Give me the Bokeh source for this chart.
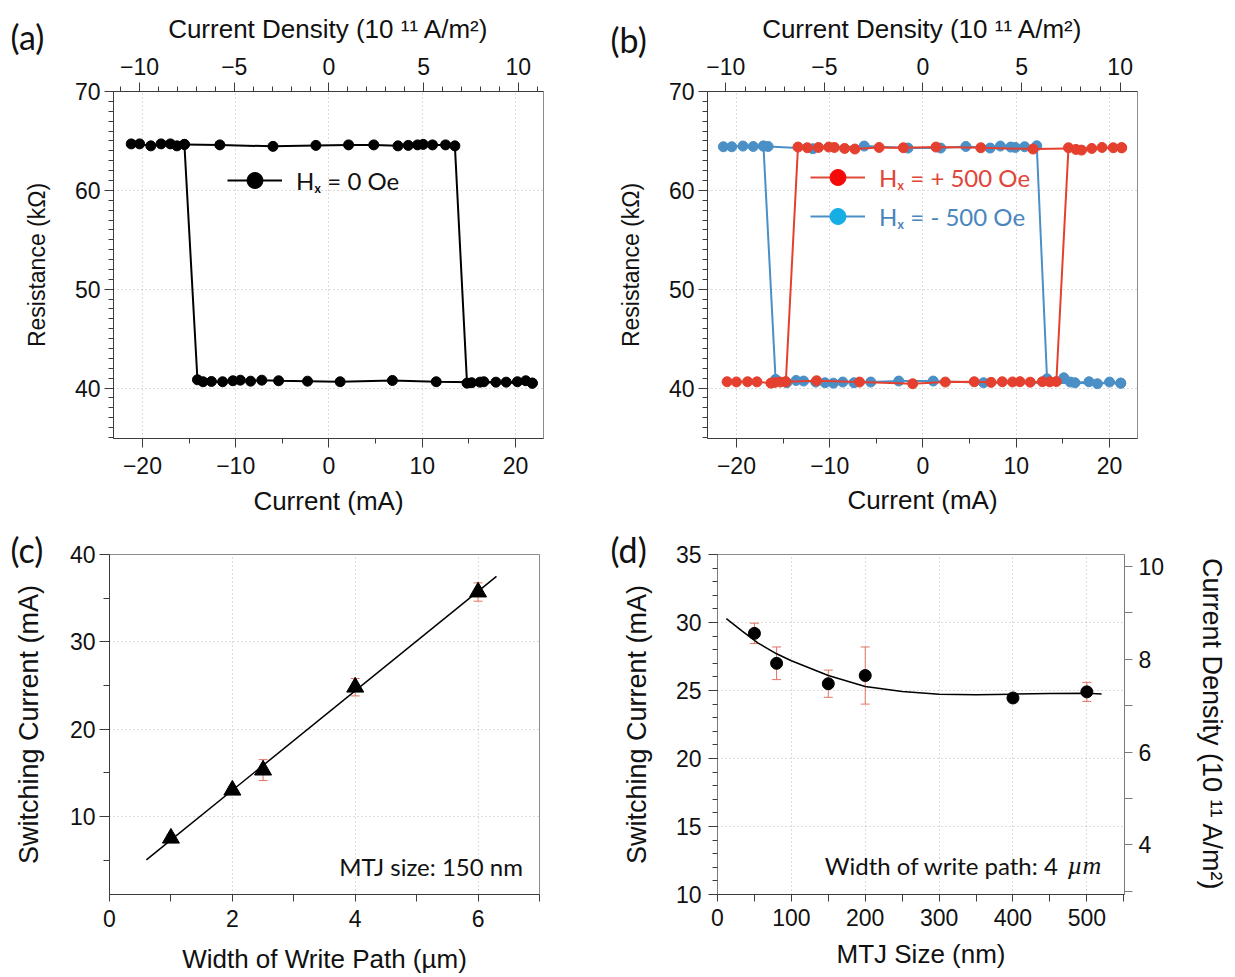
import numpy as np
from bokeh.plotting import figure
from bokeh.layouts import column, row
from bokeh.models import (ColumnDataSource, Range1d, LinearAxis, FixedTicker, Title,
                          CustomJSTickFormatter, Legend, LegendItem, Label, Whisker, TeeHead)
from bokeh.embed import file_html
from bokeh.resources import INLINE

# ---------------------------------------------------------------- data
a_up_current = [-21.2, -20.3, -19.1, -18.0, -17.0, -16.3, -15.5, -11.7, -6.0, -1.4, 2.1, 4.8,
                7.4, 8.5, 9.5, 10.1, 11.1, 12.5, 13.5, 14.8, 15.3, 16.2, 16.6, 17.9, 19.0,
                20.2, 21.1, 21.8]
a_up_resist = [64.70, 64.70, 64.50, 64.70, 64.70, 64.50, 64.65, 64.60, 64.45, 64.55, 64.60, 64.60,
               64.50, 64.55, 64.60, 64.65, 64.60, 64.60, 64.50, 40.50, 40.54, 40.60, 40.64, 40.60,
               40.60, 40.64, 40.74, 40.50]
a_down_current = [21.8, 11.5, 6.8, 1.2, -2.3, -5.4, -7.2, -8.4, -9.5, -10.3, -11.4, -12.6,
                  -13.5, -14.1, -15.5]
a_down_resist = [40.50, 40.64, 40.77, 40.64, 40.70, 40.74, 40.80, 40.70, 40.80, 40.74, 40.64,
                 40.67, 40.64, 40.84, 64.65]
a_density_per_mA = 0.4925

b_pos_up_current = [-21.0, -20.0, -18.8, -17.8, -16.3, -15.9, -15.3, -14.7, -11.4, -6.8, -1.1,
                    2.4, 5.5, 7.3, 8.5, 9.6, 10.4, 11.5, 12.8, 13.6, 14.3, 15.6, 16.4, 17.0,
                    18.1, 19.2, 20.4, 21.3]
b_pos_up_resist = [40.64, 40.62, 40.64, 40.63, 40.50, 40.57, 40.61, 40.64, 40.74, 40.61, 40.44,
                   40.61, 40.64, 40.58, 40.64, 40.62, 40.65, 40.60, 40.64, 40.63, 40.66, 64.31,
                   64.14, 64.07, 64.24, 64.34, 64.31, 64.31]
b_pos_down_current = [21.3, 11.8, 6.2, 1.4, -2.1, -4.7, -7.3, -8.4, -9.5, -10.1, -11.2, -12.4,
                      -13.4, -14.7]
b_pos_down_resist = [64.31, 64.18, 64.31, 64.38, 64.31, 64.34, 64.18, 64.24, 64.34, 64.38, 64.34,
                     64.31, 64.38, 40.64]
b_neg_up_current = [-21.4, -20.5, -19.3, -18.2, -17.1, -16.6, -11.8, -6.3, -1.6, 1.9, 4.6, 7.2,
                    8.3, 9.4, 9.9, 10.9, 12.2, 13.3, 15.1, 15.8, 16.3, 17.8, 18.7, 20.0, 21.2]
b_neg_up_resist = [64.41, 64.41, 64.48, 64.44, 64.48, 64.44, 64.21, 64.48, 64.28, 64.28, 64.44,
                   64.28, 64.48, 64.38, 64.34, 64.41, 64.51, 40.94, 41.04, 40.61, 40.54, 40.64,
                   40.44, 40.61, 40.50]
b_neg_down_current = [21.2, 6.5, 1.1, -2.6, -5.6, -7.4, -8.6, -9.6, -10.5, -11.5, -12.8, -13.6,
                      -14.6, -15.8, -17.1]
b_neg_down_resist = [40.50, 40.54, 40.71, 40.71, 40.61, 40.54, 40.61, 40.50, 40.54, 40.61, 40.71,
                     40.77, 40.54, 40.88, 64.48]
b_density_per_mA = 0.473

c_width_um = [1, 2, 2.5, 4, 6]
c_switch_mA = [7.5, 13.0, 15.3, 24.8, 35.7]
c_err_mA = [0.4, 0.4, 1.2, 1.0, 1.05]
c_fit_span = [0.6, 6.3]

d_size_nm = [50, 80, 150, 200, 400, 500]
d_switch_mA = [29.2, 27.0, 25.5, 26.1, 24.45, 24.9]
d_err_mA = [0.75, 1.2, 1.0, 2.1, 0.3, 0.7]
d_curve_nm = [12, 33, 55, 80, 100, 150, 200, 250, 300, 350, 400, 450, 500, 520]
d_curve_mA = [30.29, 29.39, 28.49, 27.70, 27.19, 26.10, 25.30, 24.92, 24.73, 24.68, 24.73,
              24.78, 24.80, 24.75]
d_density_per_mA = 0.293

ab_current_ticks = [-20, -10, 0, 10, 20]
ab_current_minor = [-15, -5, 5, 15]
ab_density_ticks = [-10, -5, 0, 5, 10]
ab_density_minor = list(range(-11, 12))
ab_resist_ticks = [40, 50, 60, 70]
ab_resist_minor = list(range(35, 71))
c_x_ticks = [0, 2, 4, 6]
c_x_minor = [1, 3, 5, 7]
c_y_ticks = [10, 20, 30, 40]
c_y_minor = [5, 15, 25, 35]
d_x_ticks = [0, 100, 200, 300, 400, 500]
d_x_minor = [50, 150, 250, 350, 450, 550]
d_y_ticks = [10, 15, 20, 25, 30, 35]
d_y_minor = list(range(10, 36))
d_j_ticks = [4, 6, 8, 10]
d_j_minor = [3, 5, 7, 9]

# ---------------------------------------------------------------- style
AXF = "Liberation Sans"
TXF = "Lato"
INK = "#111111"
AXC = "#3c3c3c"
FRAME = "#8c8c8c"
GRID = "#b8b8b8"
ERR = "#e27262"
RED = "#e5402f"
BLUE = "#4a8fc6"
NAN = float("nan")


def minus_fmt():
    return CustomJSTickFormatter(
        code="return tick < 0 ? '\u2212' + Math.abs(tick) : String(tick);")


def style_axis(ax, ticks, minor, label, label_size="26px", label_standoff=8,
               tick_standoff=4, maj=9, mnr=5, color=AXC, tick_size="23px"):
    ax.ticker = FixedTicker(ticks=ticks, minor_ticks=minor)
    ax.formatter = minus_fmt()
    ax.axis_label = label
    ax.axis_label_text_font = AXF
    ax.axis_label_text_font_size = label_size
    ax.axis_label_text_font_style = "normal"
    ax.axis_label_text_color = INK
    ax.axis_label_standoff = label_standoff
    ax.major_label_text_font = AXF
    ax.major_label_text_font_size = tick_size
    ax.major_label_text_color = INK
    ax.major_label_standoff = tick_standoff
    ax.axis_line_color = color
    ax.major_tick_line_color = color
    ax.minor_tick_line_color = color
    ax.major_tick_out = maj
    ax.major_tick_in = 0
    ax.minor_tick_out = mnr
    ax.minor_tick_in = 0


def base_fig(w, h, l, r, t, b, xr, yr):
    p = figure(width=w, height=h, x_range=Range1d(*xr), y_range=Range1d(*yr),
               output_backend="svg", toolbar_location=None,
               min_border_left=l, min_border_right=r, min_border_top=t, min_border_bottom=b)
    p.outline_line_color = FRAME
    p.outline_line_width = 1
    p.border_fill_color = "white"
    p.background_fill_color = "white"
    return p


def set_grid(p, xt, yt):
    p.xgrid.ticker = FixedTicker(ticks=xt)
    p.ygrid.ticker = FixedTicker(ticks=yt)
    for g in (p.xgrid, p.ygrid):
        g.grid_line_color = GRID
        g.grid_line_dash = "1 3"
        g.grid_line_width = 1


def letter_title(p, text, offset, standoff):
    p.add_layout(Title(text=text, align="left", offset=offset, standoff=standoff,
                       text_font=TXF, text_font_size="34px", text_font_style="normal",
                       text_color=INK, vertical_align="bottom"), "above")


def legend_for(p, label, line_color, dot_color, text_color, loc):
    ln = p.line(x=[NAN], y=[NAN], line_color=line_color, line_width=2)
    dt = p.scatter(x=[NAN], y=[NAN], marker="circle", size=16, fill_color=dot_color,
                   line_color=dot_color)
    leg = Legend(items=[LegendItem(label=label, renderers=[ln, dt])], location=loc,
                 glyph_width=55, glyph_height=40, label_height=40, label_standoff=14,
                 padding=0, margin=0, spacing=0, border_line_alpha=0,
                 background_fill_alpha=0, label_text_font=TXF,
                 label_text_font_size="24px", label_text_color=text_color)
    p.add_layout(leg)


XR_AB = (-23.1, 23.0)
YR_AB = (34.9, 70.0)
DENS_LABEL = "Current Density (10 \u00b9\u00b9 A/m\u00b2)"

# ---------------------------------------------------------------- (a)
pa = base_fig(610, 528, 113, 67, 91, 90, XR_AB, YR_AB)
style_axis(pa.below[0], ab_current_ticks, ab_current_minor, "Current (mA)",
           tick_standoff=9, label_standoff=9)
style_axis(pa.left[0], ab_resist_ticks, ab_resist_minor, "Resistance (k\u03a9)",
           label_size="23px", label_standoff=22)
pa.extra_x_ranges = {"j": Range1d(XR_AB[0] * a_density_per_mA, XR_AB[1] * a_density_per_mA)}
ta = LinearAxis(x_range_name="j")
style_axis(ta, ab_density_ticks, ab_density_minor, DENS_LABEL,
           tick_standoff=8, label_standoff=11)
pa.add_layout(ta, "above")
set_grid(pa, ab_current_ticks, [40, 50, 60])
pa.line(a_up_current, a_up_resist, line_color="black", line_width=2)
pa.line(a_down_current, a_down_resist, line_color="black", line_width=2)
pa.scatter(a_up_current, a_up_resist, marker="circle", size=10, color="black")
pa.scatter(a_down_current, a_down_resist, marker="circle", size=10, color="black")
legend_for(pa, "H\u2093 = 0 Oe", "black", "black", INK, (114, 238))
letter_title(pa, "(a)", -103, -93)

# ---------------------------------------------------------------- (b)
pb = base_fig(617, 528, 97, 90, 91, 90, XR_AB, YR_AB)
style_axis(pb.below[0], ab_current_ticks, ab_current_minor, "Current (mA)",
           tick_standoff=9, label_standoff=8)
style_axis(pb.left[0], ab_resist_ticks, ab_resist_minor, "Resistance (k\u03a9)",
           label_size="23px", label_standoff=22)
pb.extra_x_ranges = {"j": Range1d(XR_AB[0] * b_density_per_mA, XR_AB[1] * b_density_per_mA)}
tb = LinearAxis(x_range_name="j")
style_axis(tb, ab_density_ticks, ab_density_minor, DENS_LABEL,
           tick_standoff=8, label_standoff=11)
pb.add_layout(tb, "above")
set_grid(pb, ab_current_ticks, [40, 50, 60])
pb.line(b_neg_up_current, b_neg_up_resist, line_color=BLUE, line_width=2)
pb.line(b_neg_down_current, b_neg_down_resist, line_color=BLUE, line_width=2)
pb.scatter(b_neg_up_current, b_neg_up_resist, marker="circle", size=10, color=BLUE)
pb.scatter(b_neg_down_current, b_neg_down_resist, marker="circle", size=10, color=BLUE)
pb.line(b_pos_up_current, b_pos_up_resist, line_color=RED, line_width=2)
pb.line(b_pos_down_current, b_pos_down_resist, line_color=RED, line_width=2)
pb.scatter(b_pos_up_current, b_pos_up_resist, marker="circle", size=10, color=RED)
pb.scatter(b_pos_down_current, b_pos_down_resist, marker="circle", size=10, color=RED)
legend_for(pb, "H\u2093 = + 500 Oe", "#e04a3a", "#f50a0a", "#e0463a", (103, 241))
legend_for(pb, "H\u2093 = - 500 Oe", "#4a8fc6", "#17aee6", "#4a86bd", (103, 202))
letter_title(pb, "(b)", -97, -99)

# ---------------------------------------------------------------- (c)
pc = base_fig(610, 448, 109, 71, 26, 81, (0, 7.0), (1.05, 40))
style_axis(pc.below[0], c_x_ticks, c_x_minor, "Width of Write Path (\u00b5m)",
           tick_standoff=8, label_standoff=14, maj=7, mnr=7)
style_axis(pc.left[0], c_y_ticks, c_y_minor, "Switching Current (mA)",
           label_size="27px", label_standoff=23, maj=10, mnr=6)
set_grid(pc, [2, 4, 6], [10, 20, 30])
slope, icpt = np.polyfit(c_width_um, c_switch_mA, 1)
fit_x = np.array(c_fit_span)
pc.line(fit_x, slope * fit_x + icpt, line_color="black", line_width=1.5)
src_c = ColumnDataSource(dict(x=c_width_um, upper=[v + e for v, e in zip(c_switch_mA, c_err_mA)],
                              lower=[v - e for v, e in zip(c_switch_mA, c_err_mA)]))
pc.add_layout(Whisker(source=src_c, base="x", upper="upper", lower="lower",
                      line_color=ERR, line_width=1,
                      upper_head=TeeHead(size=9, line_color=ERR, line_width=1),
                      lower_head=TeeHead(size=9, line_color=ERR, line_width=1)))
pc.scatter(c_width_um, c_switch_mA, marker="triangle", size=17, color="black")
pc.add_layout(Label(x=6.73, y=4.3, text="MTJ size: 150 nm", text_font=TXF,
                    text_font_size="24px", text_color=INK, text_align="right",
                    text_baseline="middle"))
letter_title(pc, "(c)", -99, -31)

# ---------------------------------------------------------------- (d)
pd = base_fig(620, 448, 107, 105, 26, 81, (0, 551), (10, 35))
style_axis(pd.below[0], d_x_ticks, d_x_minor, "MTJ Size (nm)",
           tick_standoff=7, label_standoff=10, maj=7, mnr=7)
style_axis(pd.left[0], d_y_ticks, d_y_minor, "Switching Current (mA)",
           label_size="27px", label_standoff=21, tick_standoff=7, maj=9, mnr=5)
pd.extra_y_ranges = {"j": Range1d(10 * d_density_per_mA, 35 * d_density_per_mA)}
rd = LinearAxis(y_range_name="j")
style_axis(rd, d_j_ticks, d_j_minor, DENS_LABEL, label_size="27px",
           label_standoff=30, tick_standoff=6, maj=8, mnr=8, color="#7a7a7a")
pd.add_layout(rd, "right")
pd.left[0].axis_line_color = "#7a7a7a"
set_grid(pd, [100, 200, 300, 400, 500], [15, 20, 25, 30])
pd.line(d_curve_nm, d_curve_mA, line_color="black", line_width=1.5)
src_d = ColumnDataSource(dict(x=d_size_nm, upper=[v + e for v, e in zip(d_switch_mA, d_err_mA)],
                              lower=[v - e for v, e in zip(d_switch_mA, d_err_mA)]))
pd.add_layout(Whisker(source=src_d, base="x", upper="upper", lower="lower",
                      line_color=ERR, line_width=1,
                      upper_head=TeeHead(size=9, line_color=ERR, line_width=1),
                      lower_head=TeeHead(size=9, line_color=ERR, line_width=1)))
pd.scatter(d_size_nm, d_switch_mA, marker="circle", size=12, color="black")
pd.add_layout(Label(x=462, y=12.1, text="Width of write path: 4", text_font=TXF,
                    text_font_size="24px", text_color=INK, text_align="right",
                    text_baseline="middle"))
pd.add_layout(Label(x=474, y=12.1, text="\u00b5m", text_font="Liberation Serif",
                    text_font_style="italic", text_font_size="26px", text_color=INK,
                    text_align="left", text_baseline="middle"))
letter_title(pd, "(d)", -107, -31)

layout = column(row(pa, pb), row(pc, pd))
open("out.html", "w").write(file_html(layout, INLINE, "chart"))
